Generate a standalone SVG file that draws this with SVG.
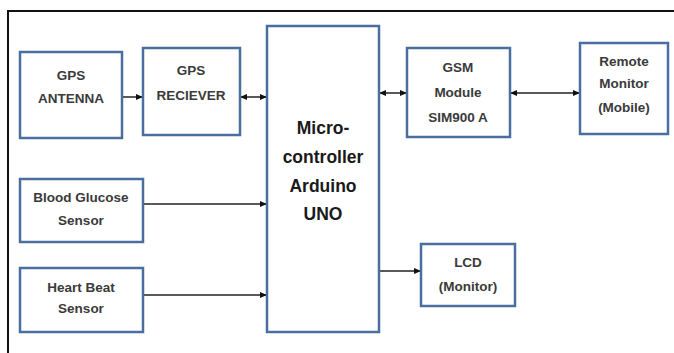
<svg xmlns="http://www.w3.org/2000/svg" width="674" height="353" viewBox="0 0 674 353">
<style>
.box{fill:#fff;stroke:#4a6f9f;stroke-width:2.5}
.t{font-family:"Liberation Sans",Arial,sans-serif;font-weight:bold;font-size:13.5px;fill:#3a3a3a;text-anchor:middle}
.tb{font-family:"Liberation Sans",Arial,sans-serif;font-weight:bold;font-size:17.5px;fill:#1a1a1a;text-anchor:middle}
.c{stroke:#222;stroke-width:1.5;fill:none}
</style>
<defs>
<marker id="ah" markerWidth="8" markerHeight="8" refX="7" refY="4" orient="auto-start-reverse" markerUnits="userSpaceOnUse">
<path d="M0,1 L7,4 L0,7 z" fill="#111"/>
</marker>
</defs>
<rect x="8" y="11" width="680" height="360" fill="#fff" stroke="#111" stroke-width="2"/>
<g id="connectors">
<line class="c" x1="122" y1="97" x2="143" y2="97" marker-end="url(#ah)"/>
<line class="c" x1="240" y1="97" x2="267" y2="97" marker-start="url(#ah)" marker-end="url(#ah)"/>
<line class="c" x1="379" y1="93" x2="407" y2="93" marker-start="url(#ah)" marker-end="url(#ah)"/>
<line class="c" x1="510" y1="93" x2="580" y2="93" marker-start="url(#ah)" marker-end="url(#ah)"/>
<line class="c" x1="143" y1="204" x2="267" y2="204" marker-end="url(#ah)"/>
<line class="c" x1="143" y1="295" x2="267" y2="295" marker-end="url(#ah)"/>
<line class="c" x1="379" y1="271" x2="421" y2="271" marker-end="url(#ah)"/>
</g>
<g id="gps-antenna">
<rect class="box" x="20" y="52" width="102" height="86"/>
<text class="t" x="71" y="80">GPS</text>
<text class="t" x="71" y="103">ANTENNA</text>
</g>
<g id="gps-receiver">
<rect class="box" x="143" y="48" width="97" height="87"/>
<text class="t" x="191" y="75">GPS</text>
<text class="t" x="191" y="100">RECIEVER</text>
</g>
<g id="micro">
<rect class="box" x="267" y="26" width="112" height="306"/>
<text class="tb" x="323" y="134">Micro-</text>
<text class="tb" x="323" y="163">controller</text>
<text class="tb" x="323" y="192">Arduino</text>
<text class="tb" x="323" y="220">UNO</text>
</g>
<g id="gsm">
<rect class="box" x="407" y="48" width="103" height="89"/>
<text class="t" x="458" y="72">GSM</text>
<text class="t" x="458" y="97">Module</text>
<text class="t" x="458" y="122">SIM900 A</text>
</g>
<g id="remote">
<rect class="box" x="580" y="43" width="88" height="91"/>
<text class="t" x="624" y="66">Remote</text>
<text class="t" x="624" y="88">Monitor</text>
<text class="t" x="624" y="112">(Mobile)</text>
</g>
<g id="blood-glucose">
<rect class="box" x="20" y="179" width="123" height="63"/>
<text class="t" x="81" y="202">Blood Glucose</text>
<text class="t" x="81" y="225">Sensor</text>
</g>
<g id="heart-beat">
<rect class="box" x="20" y="268" width="123" height="64"/>
<text class="t" x="81" y="292">Heart Beat</text>
<text class="t" x="81" y="313">Sensor</text>
</g>
<g id="lcd">
<rect class="box" x="421" y="244" width="94" height="62"/>
<text class="t" x="468" y="267">LCD</text>
<text class="t" x="468" y="291">(Monitor)</text>
</g>
</svg>
